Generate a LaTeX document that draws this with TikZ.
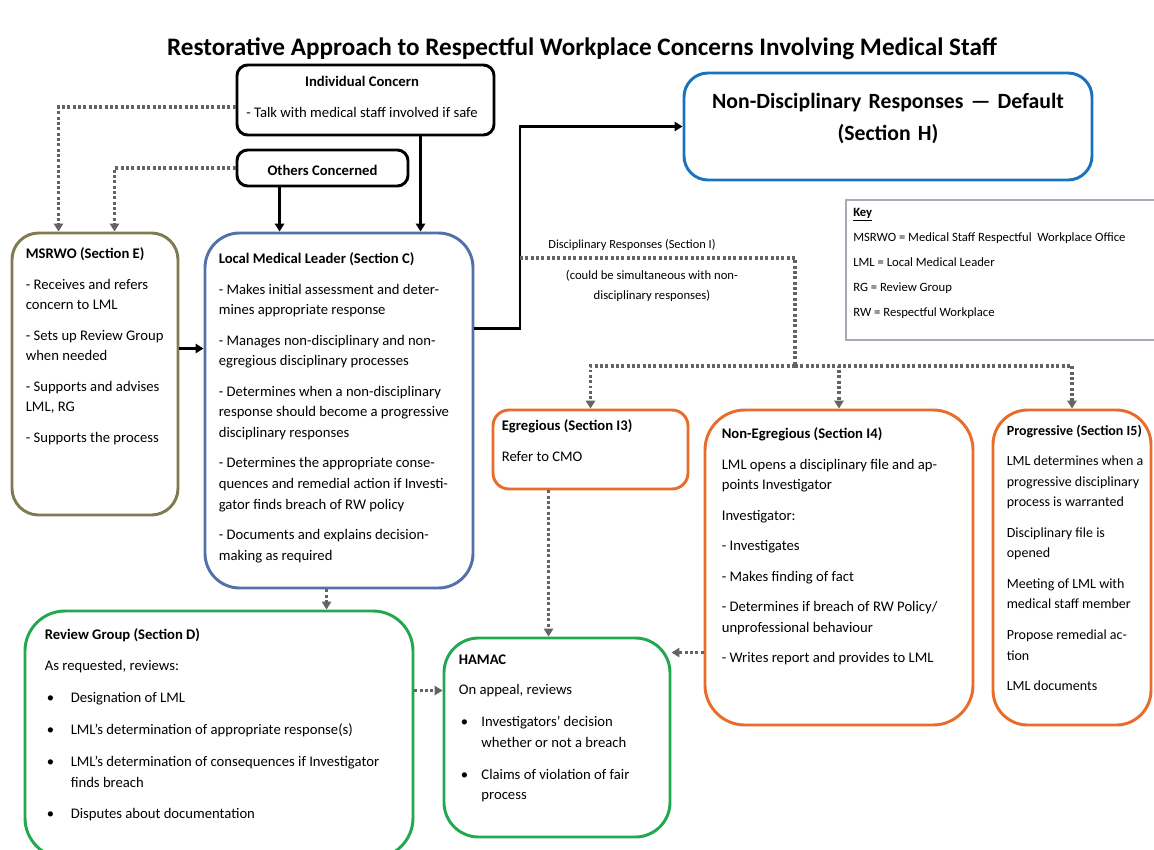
\documentclass[tikz,border=0pt]{standalone}
\usepackage{fontspec}
\setmainfont{Carlito}
\usepackage{xcolor}
\usetikzlibrary{arrows.meta, fit, positioning}
\definecolor{officecolor}{RGB}{128,122,80}
\definecolor{leadercolor}{RGB}{84,112,168}
\definecolor{defaultcolor}{RGB}{24,114,190}
\definecolor{disccolor}{RGB}{232,108,42}
\definecolor{reviewcolor}{RGB}{34,168,78}
\definecolor{keycolor}{RGB}{168,168,182}
\definecolor{dotcolor}{RGB}{100,100,100}
\newcommand{\bul}[1]{\makebox[#1][l]{\hspace{1.5pt}\textbullet}}

\begin{document}
\begin{tikzpicture}[
    x=0.75pt, y=0.75pt,
    box/.style={draw, line width=2.2pt, inner sep=0pt, rounded corners=#1},
    box/.default=14pt,
    txt/.style={anchor=north west, align=left, inner sep=0pt, font=\fontsize{11}{15.4}\selectfont},
    arrow/.style={-{Triangle[width=7pt,length=6pt]}, line width=1.6pt},
    dotline/.style={line width=2.6pt, dotcolor, dash pattern=on 2.2pt off 1.8pt},
    dotarrow/.style={dotline, -{Triangle[width=7pt,length=6pt]}},
]
\useasboundingbox (0,0) rectangle (1154,-850);

% ============ TITLE ============
\node[font=\fontsize{18.9}{22}\selectfont\bfseries] (title) at (582,-49)
    {Restorative Approach to Respectful Workplace Concerns Involving Medical Staff};

% ============ CONCERNS ============
\node[box=8pt, fit={(237,-65) (494,-135)}] (indiv) {};
\node[txt, anchor=north, align=center] (indivtext) at (362,-76) {
    \textbf{Individual Concern}\\[8pt]
    - Talk with medical staff involved if safe
};
\node[box=8pt, fit={(237,-150) (408,-186)}] (others) {};
\node[font=\fontsize{11}{13}\selectfont\bfseries] (otherstext) at ([shift={(0,-2)}]others.center) {Others Concerned};

% Default response
\node[box=18pt, draw=defaultcolor, fit={(684,-73) (1092,-180)}, align=center,
      font=\fontsize{16.3}{24}\selectfont\bfseries] (nondisc) {Non-Disciplinary Responses --- Default\\(Section H)};

% Key
\node[draw=keycolor, line width=1.5pt, inner sep=0pt, fit={(846,-200) (1164,-340)}] (key) {};
\node[txt, font=\fontsize{9.5}{18.75}\selectfont] (keytext) at ([shift={(8,-9)}]key.north west) {
    \underline{\textbf{Key}}\\
    MSRWO = Medical Staff Respectful\ \ Workplace Office\\
    LML = Local Medical Leader\\
    RG = Review Group\\
    RW = Respectful Workplace
};

% ============ OFFICE AND LEADER ============
\node[box=20pt, draw=officecolor, fit={(12,-233) (178,-515)}] (msrwo) {};
\node[txt] (msrwotext) at ([shift={(15,-16)}]msrwo.north west) {
    \textbf{MSRWO (Section E)}\\[7.5pt]
    - Receives and refers\\ concern to LML\\[7.5pt]
    - Sets up Review Group\\ when needed\\[7.5pt]
    - Supports and advises\\ LML, RG\\[7.5pt]
    - Supports the process
};

\node[box=26pt, draw=leadercolor, fit={(205,-233) (473,-588)}] (lml) {};
\node[txt] (lmltext) at ([shift={(15,-21)}]lml.north west) {
    \textbf{Local Medical Leader (Section C)}\\[7.5pt]
    - Makes initial assessment and deter-\\ mines appropriate response\\[7.5pt]
    - Manages non-disciplinary and non-\\ egregious disciplinary processes\\[7.5pt]
    - Determines when a non-disciplinary\\ response should become a progressive\\ disciplinary responses\\[7.5pt]
    - Determines the appropriate conse-\\ quences and remedial action if Investi-\\ gator finds breach of RW policy\\[7.5pt]
    - Documents and explains decision-\\ making as required
};

% ============ DISCIPLINARY RESPONSES ============
\node[font=\fontsize{9.3}{11}\selectfont] (disclabel) at (632,-245) {Disciplinary Responses (Section I)};
\node[align=center, font=\fontsize{9.5}{15.5}\selectfont] (simnote) at (652,-286)
    {(could be simultaneous with non-\\disciplinary responses)};

\node[box=12pt, draw=disccolor, fit={(493,-410) (688,-489)}] (egreg) {};
\node[txt] (egregtext) at ([shift={(10,-11)}]egreg.north west) {
    \textbf{Egregious (Section I3)}\\[7.5pt]
    Refer to CMO
};

\node[box=30pt, draw=disccolor, fit={(705,-410) (973,-725)}] (nonegreg) {};
\node[txt] (nonegregtext) at ([shift={(18,-19)}]nonegreg.north west) {
    \textbf{Non-Egregious (Section I4)}\\[7.5pt]
    LML opens a disciplinary file and ap-\\ points Investigator\\[7.5pt]
    Investigator:\\[7.5pt]
    - Investigates\\[7.5pt]
    - Makes finding of fact\\[7.5pt]
    - Determines if breach of RW Policy/\\ unprofessional behaviour\\[7.5pt]
    - Writes report and provides to LML
};

\node[box=26pt, draw=disccolor, fit={(993,-410) (1151,-725)}] (prog) {};
\node[txt, font=\fontsize{10.5}{15.4}\selectfont] (progtext) at ([shift={(15,-16)}]prog.north west) {
    \textbf{Progressive (Section I5)}\\[7.5pt]
    LML determines when a\\ progressive disciplinary\\ process is warranted\\[7.5pt]
    Disciplinary file is\\ opened\\[7.5pt]
    Meeting of LML with\\ medical staff member\\[7.5pt]
    Propose remedial ac-\\ tion\\[7.5pt]
    LML documents
};

% ============ REVIEW AND APPEAL ============
\node[box=30pt, draw=reviewcolor, fit={(25,-611) (413,-858)}] (review) {};
\node[txt] (reviewtext) at ([shift={(21,-19)}]review.north west) {
    \textbf{Review Group (Section D)}\\[8pt]
    As requested, reviews:\\[8.5pt]
    \bul{19.5pt}Designation of LML\\[8.5pt]
    \bul{19.5pt}LML’s determination of appropriate response(s)\\[8.5pt]
    \bul{19.5pt}LML’s determination of consequences if Investigator\\
    \hspace*{19.5pt}finds breach\\[8.5pt]
    \bul{19.5pt}Disputes about documentation
};

\node[box=26pt, draw=reviewcolor, fit={(444,-638) (670,-837)}] (hamac) {};
\node[txt] (hamactext) at ([shift={(16,-18)}]hamac.north west) {
    \textbf{HAMAC}\\[7.5pt]
    On appeal, reviews\\[8.5pt]
    \bul{17pt}Investigators’ decision\\
    \hspace*{17pt}whether or not a breach\\[8.5pt]
    \bul{17pt}Claims of violation of fair\\
    \hspace*{17pt}process
};

% ============ ARROWS ============
% Concerns into the leader
\coordinate (othersdrop) at ([shift={(44,0)}]others.south west);
\coordinate (indivdrop) at ([shift={(185,0)}]indiv.south west);
\draw[arrow] (othersdrop) -- (othersdrop |- lml.north);
\draw[arrow] (indivdrop) -- (indivdrop |- lml.north);

% Concerns to the office
\coordinate (indivleft) at ([shift={(0,-7)}]indiv.west);
\draw[dotarrow] (indivleft) -| ([shift={(48,0)}]msrwo.north west);
\draw[dotarrow] (others.west) -| ([shift={(104,0)}]msrwo.north west);

% Office to leader
\coordinate (msrwoout) at ([shift={(0,-117)}]msrwo.north east);
\draw[arrow] (msrwoout) -- (msrwoout -| lml.west);

% Leader to default and disciplinary responses
\coordinate (lmlout) at ([shift={(0,-97)}]lml.north east);
\coordinate (branch) at (520,-258);
\coordinate (split) at (795,-366);
\draw[arrow] (lmlout) -| (branch) |- (nondisc.west);
\draw[dotline] (branch) -| (split);
\draw[dotarrow] (split) -| (egreg.north);
\draw[dotarrow] (split) -| (nonegreg.north);
\draw[dotarrow] (split) -| (prog.north);

% Review and appeal
\coordinate (lmldown) at ([shift={(123,0)}]lml.south west);
\coordinate (egregdown) at ([shift={(57,0)}]egreg.south west);
\coordinate (nonegregout) at ([shift={(0,-244)}]nonegreg.north west);
\coordinate (reviewout) at ([shift={(0,-81)}]review.north east);
\draw[dotarrow] (lmldown) -- (lmldown |- review.north);
\draw[dotarrow] (egregdown) -- (egregdown |- hamac.north);
\draw[dotarrow] (nonegregout) -- (nonegregout -| hamac.east);
\draw[dotarrow] (reviewout) -- (reviewout -| hamac.west);

\end{tikzpicture}
\end{document}
